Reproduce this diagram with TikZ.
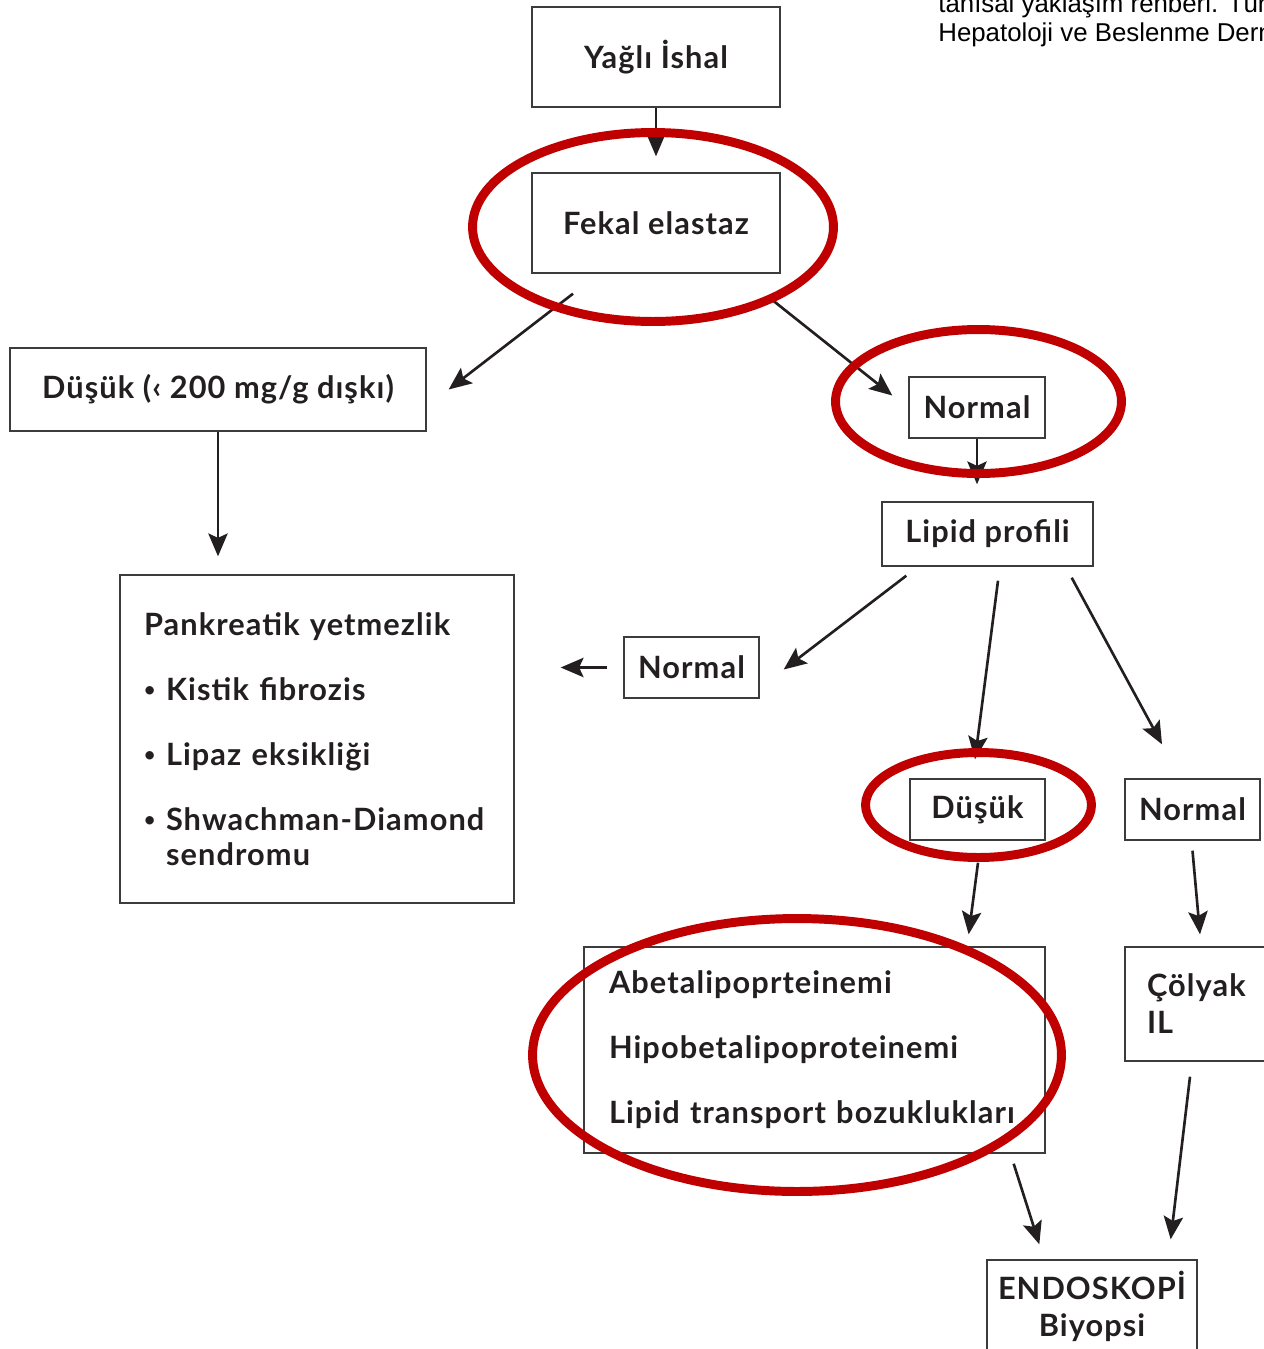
\documentclass[tikz,border=0pt]{standalone}
\usepackage{fontspec}
\setmainfont{Lato}
\newfontfamily\boxfont{Lato}[LetterSpace=3.5]
\newfontfamily\notefont{Liberation Sans}
\usetikzlibrary{calc,positioning,arrows.meta}
\definecolor{ink}{RGB}{35,31,32}
\definecolor{boxgray}{RGB}{60,60,60}
\definecolor{ringred}{RGB}{192,0,0}
\newcommand\dotitem{\makebox[22\unitpx][l]{\raisebox{0.12em}{\fontsize{11}{11}\selectfont\textbullet}}}
\newlength\unitpx
\setlength\unitpx{0.02cm}

\begin{document}
\begin{tikzpicture}[x=0.02cm,y=-0.02cm,
	box/.style={draw=boxgray,line width=0.8pt,text=ink,font=\boxfont\fontsize{17.5}{20}\selectfont\bfseries},
	arr/.style={draw=ink,line width=1.5pt,-{Stealth[length=13pt,width=11pt,inset=2.5pt]}},
	ring/.style={draw=ringred,line width=5.1pt}]
			\useasboundingbox (0,0) rectangle (1264,1349);
			%source note, cut by the page edge
			\node[anchor=base west,inner sep=0pt,text=black,font=\notefont\fontsize{14.7}{17}\selectfont] (note1) at (938,12) {tanısal yaklaşım rehberi. Türk};
			\node[anchor=base west,inner sep=0pt,text=black,font=\notefont\fontsize{14.7}{17}\selectfont] (note2) at (938,41) {Hepatoloji ve Beslenme Derneği};
			%first steps
			\node[box,minimum width=4.96cm,minimum height=2cm] (yagli) at (656,57) {Yağlı İshal};
			\node[box,minimum width=4.96cm,minimum height=2cm] (fekal) at (656,223) {Fekal elastaz};
			\node[box,minimum width=8.32cm,minimum height=1.66cm] (dusuk) at (218,389.5) {Düşük (‹ 200 mg/g dışkı)};
			\node[box,minimum width=2.72cm,minimum height=1.22cm] (normal1) at (977,407.5) {Normal};
			\node[box,minimum width=4.22cm,minimum height=1.28cm] (lipid) at (987.5,534) {Lipid profili};
			%pancreas box
			\node[box,minimum height=6.56cm,inner xsep=0.48cm,text width=6.92cm,align=left] (pank) at (317,739)
				{Pankreatik yetmezlik\\[17pt]
				\dotitem Kistik fibrozis\\[17pt]
				\dotitem Lipaz eksikliği\\[17pt]
				\dotitem Shwachman-Diamond\\
				\hspace*{22\unitpx}sendromu};
			%lipid branches
			\node[box,minimum width=2.7cm,minimum height=1.22cm] (normal2) at (691.5,667.5) {Normal};
			\node[box,minimum width=2.7cm,minimum height=1.22cm] (dusuk2) at (977.5,809.5) {Düşük};
			\node[box,minimum width=2.7cm,minimum height=1.22cm] (normal3) at (1192.5,809.5) {Normal};
			\node[box,minimum height=4.12cm,inner xsep=0.5cm,text width=8.22cm,align=left] (abeta) at (814.5,1050)
				{Abetalipoprteinemi\\[17pt]
				Hipobetalipoproteinemi\\[17pt]
				Lipid transport bozuklukları};
			\node[box,minimum height=2.28cm,inner xsep=0.44cm,text width=2.12cm,align=left] (colyak) at (1200,1004) {Çölyak\\[1pt]IL};
			\node[box,minimum width=4.2cm,minimum height=1.84cm,align=center] (endo) at (1092,1306) {ENDOSKOPİ\\[1pt]Biyopsi};
			%arrows
			\draw[arr] (yagli.south) -- ($(fekal.north)+(0,-16)$);
			\draw[arr] ($(fekal.south)+(-83,20)$) -- ($(dusuk.east)+(22,0)$);
			\draw[arr] ($(fekal.south east)+(-10,25)$) -- ($(normal1.west)+(-16,-12)$);
			\draw[arr,shorten >=17\unitpx] (normal1.south) -- (normal1.south |- lipid.north);
			\draw[arr,shorten >=18\unitpx] (dusuk.south) -- (dusuk.south |- pank.north);
			\draw[arr] ($(lipid.south west)+(25,9)$) -- ($(normal2.east)+(24,2)$);
			\draw[arr,shorten <=16\unitpx,shorten >=46\unitpx] (normal2.west) -- (normal2.west -| pank.east);
			\draw[arr] ($(lipid.south)+(10.5,14)$) -- ($(dusuk2.north)+(-2.5,-19)$);
			\draw[arr] ($(lipid.south east)+(-22,11)$) -- ($(normal3.north)+(-30.5,-34)$);
			\draw[arr] ($(dusuk2.south)+(0.5,22)$) -- ($(abeta.north east)+(-77,-12)$);
			\draw[arr] ($(normal3.south)+(0,10)$) -- ($(colyak.north)+(0,-12)$);
			\draw[arr] ($(abeta.south east)+(-32,10)$) -- ($(endo.north west)+(53,-15)$);
			\draw[arr] ($(colyak.south)+(-10,15)$) -- ($(endo.north east)+(-27,-20)$);
			%red rings
			\draw[ring] ($(fekal)+(-3,4)$) ellipse [x radius=3.61cm,y radius=1.89cm];
			\draw[ring] ($(normal1)+(1.5,-6)$) ellipse [x radius=2.86cm,y radius=1.44cm];
			\draw[ring] ($(dusuk2)+(1,-4.5)$) ellipse [x radius=2.26cm,y radius=1.05cm];
			\draw[ring] ($(abeta)+(-17.5,5)$) ellipse [x radius=5.29cm,y radius=2.73cm];
		\end{tikzpicture}
\end{document}
